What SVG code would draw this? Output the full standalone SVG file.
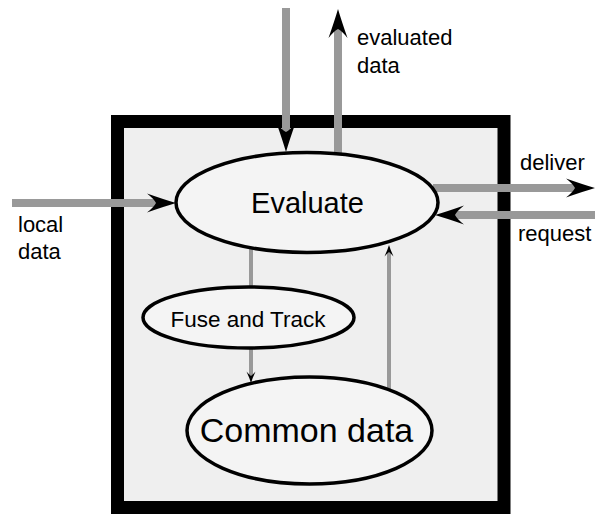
<svg xmlns="http://www.w3.org/2000/svg" width="595" height="514" viewBox="0 0 595 514">
<style>
text{font-family:"Liberation Sans",Arial,sans-serif;fill:#000}
.lbl{font-size:22px}
.node{fill:#f4f4f4;stroke:#000;stroke-width:3.5}
.big{stroke:#999;stroke-width:8;fill:none}
.small{stroke:#999;stroke-width:4;fill:none}
</style>
<defs>
<marker id="bigHead" markerUnits="userSpaceOnUse" viewBox="-30 -11 31 22" markerWidth="31" markerHeight="22" refX="-20" refY="0" orient="auto" overflow="visible">
<path d="M0,0 Q-12,-3.5 -29,-9.5 Q-22,-4 -20,0 Q-22,4 -29,9.5 Q-12,3.5 0,0Z" fill="#000"/>
</marker>
<marker id="smallHead" markerUnits="userSpaceOnUse" viewBox="-12 -5 13 10" markerWidth="13" markerHeight="10" refX="-7" refY="0" orient="auto" overflow="visible">
<path d="M0,0 Q-5,-1.5 -11.5,-4.5 Q-8,-1.5 -7,0 Q-8,1.5 -11.5,4.5 Q-5,1.5 0,0Z" fill="#000"/>
</marker>
</defs>
<rect id="frame" x="117.5" y="121.5" width="386.5" height="386" fill="#efefef" stroke="#000" stroke-width="13"/>
<g id="connectors">
<line class="big" x1="286" y1="8" x2="286" y2="132" marker-end="url(#bigHead)"/>
<line class="big" x1="338" y1="154" x2="338" y2="29" marker-end="url(#bigHead)"/>
<line class="big" x1="12" y1="203" x2="156" y2="203" marker-end="url(#bigHead)"/>
<line class="big" x1="433" y1="188" x2="575" y2="188" marker-end="url(#bigHead)"/>
<line class="big" x1="595" y1="215" x2="455" y2="215" marker-end="url(#bigHead)"/>
<line class="small" x1="251" y1="248" x2="251" y2="288"/>
<line class="small" x1="251" y1="347" x2="251" y2="376" marker-end="url(#smallHead)"/>
<line class="small" x1="389" y1="390" x2="389" y2="252" marker-end="url(#smallHead)"/>
</g>
<g id="evaluate">
<ellipse class="node" cx="307" cy="202.5" rx="131" ry="50"/>
<text x="307.5" y="213" font-size="29" text-anchor="middle">Evaluate</text>
</g>
<g id="fuse">
<ellipse class="node" cx="248.5" cy="317.5" rx="105.5" ry="30.5"/>
<text x="248" y="327" font-size="22.5" text-anchor="middle">Fuse and Track</text>
</g>
<g id="common">
<ellipse class="node" cx="309.5" cy="430.5" rx="122.5" ry="53.5"/>
<text x="306.5" y="442" font-size="34" text-anchor="middle">Common data</text>
</g>
<g id="labels">
<text class="lbl" x="357" y="45">evaluated</text>
<text class="lbl" x="357" y="73">data</text>
<text class="lbl" x="18" y="232">local</text>
<text class="lbl" x="18" y="259">data</text>
<text class="lbl" x="520" y="170">deliver</text>
<text class="lbl" x="518" y="241">request</text>
</g>
</svg>
